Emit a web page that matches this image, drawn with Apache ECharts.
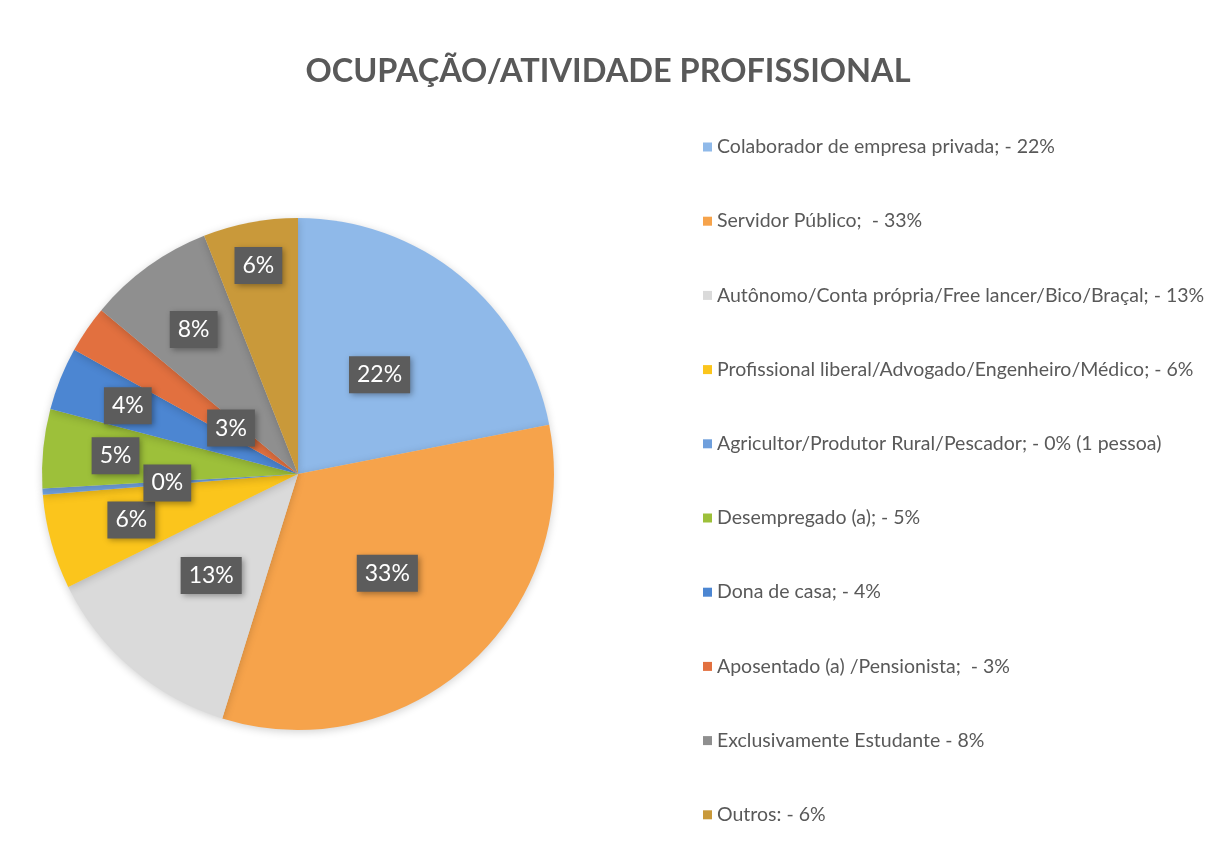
<!DOCTYPE html>
<html>
<head>
<meta charset="utf-8">
<script src="https://cdn.jsdelivr.net/npm/echarts@6/dist/echarts.min.js"></script>
<style>
  html, body { margin: 0; padding: 0; background: #fff; }
  #chart { width: 1231px; height: 859px; }
</style>
</head>
<body>
<div id="chart"></div>
<script>
// categorias (texto da legenda)
const categories = [
  'Colaborador de empresa privada; - 22%',
  'Servidor Público;  - 33%',
  'Autônomo/Conta própria/Free lancer/Bico/Braçal; - 13%',
  'Profissional liberal/Advogado/Engenheiro/Médico; - 6%',
  'Agricultor/Produtor Rural/Pescador; - 0% (1 pessoa)',
  'Desempregado (a); - 5%',
  'Dona de casa; - 4%',
  'Aposentado (a) /Pensionista;  - 3%',
  'Exclusivamente Estudante - 8%',
  'Outros: - 6%'
]
// percentuais (o 0% é 1 pessoa, fatia muito fina)
const values = [22, 33, 13, 6, 0.4, 5, 4, 3, 8, 6]
const pctLabels = ['22%', '33%', '13%', '6%', '0%', '5%', '4%', '3%', '8%', '6%']

const colors = ['#8fb9e9', '#f6a34b', '#dadada', '#fbc51c', '#6f9fdc',
  '#9dc03a', '#4c86d2', '#e2703f', '#8f8f8f', '#c9993a']
// distancia do rotulo ao centro (fracao do raio), como no Excel "melhor ajuste"
const labelDist = [0.49, 0.51, 0.51, 0.66, 0.5, 0.7, 0.7, 0.31, 0.68, 0.81]

const cx = 298
const cy = 474
const R = 256

const chart = echarts.init(document.getElementById('chart'))
chart.setOption({
  backgroundColor: '#fff',
  color: colors,
  title: {
    text: 'OCUPAÇÃO/ATIVIDADE PROFISSIONAL',
    left: 603,
    textAlign: 'center',
    top: 50,
    textStyle: {
      fontFamily: 'Lato',
      fontSize: 32.5,
      fontWeight: 'bold',
      color: '#595959'
    }
  },
  legend: {
    orient: 'vertical',
    left: 698,
    top: 131,
    icon: 'rect',
    itemWidth: 9,
    itemHeight: 9,
    itemGap: 52.2,
    selectedMode: false,
    textStyle: {
      fontFamily: 'Lato',
      fontSize: 19.5,
      lineHeight: 22,
      color: '#595959'
    },
    data: categories
  },
  series: [
    {
      type: 'pie',
      center: [cx, cy],
      radius: R,
      startAngle: 90,
      clockwise: true,
      avoidLabelOverlap: false,
      itemStyle: {
        shadowBlur: 8,
        shadowColor: 'rgba(0,0,0,0.18)',
        shadowOffsetY: 2
      },
      label: {
        show: true,
        position: 'inside',
        formatter: (p) => pctLabels[p.dataIndex],
        fontFamily: 'Lato',
        fontSize: 23,
        color: '#fff',
        backgroundColor: '#5c5c5c',
        padding: [8, 8, 6, 8],
        shadowBlur: 6,
        shadowColor: 'rgba(0,0,0,0.35)',
        shadowOffsetX: 2,
        shadowOffsetY: 2
      },
      labelLine: { show: false },
      labelLayout: (p) => {
        const lx = p.labelRect.x + p.labelRect.width / 2
        const ly = p.labelRect.y + p.labelRect.height / 2
        const k = labelDist[p.dataIndex] / 0.5 - 1
        return { dx: (lx - cx) * k, dy: (ly - cy) * k }
      },
      emphasis: { disabled: true },
      data: categories.map((name, i) => ({ name: name, value: values[i] }))
    }
  ]
})
</script>
</body>
</html>
